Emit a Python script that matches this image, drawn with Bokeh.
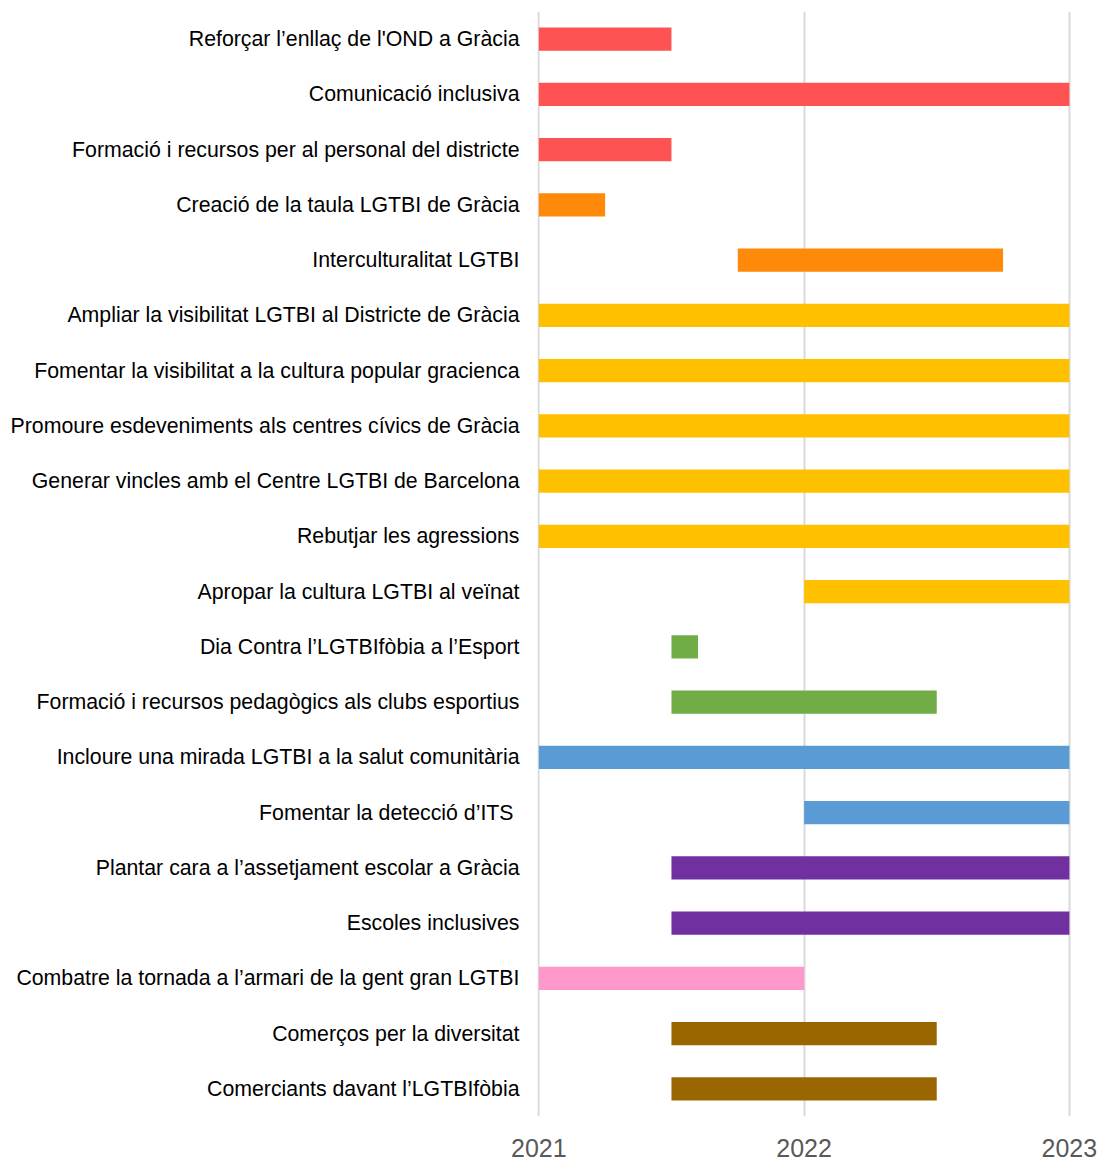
from bokeh.plotting import figure
from bokeh.models import ColumnDataSource, FactorRange, Range1d, FixedTicker
from bokeh.embed import file_html
from bokeh.resources import INLINE

actions = [
    "Reforçar l’enllaç de l'OND a Gràcia",
    "Comunicació inclusiva",
    "Formació i recursos per al personal del districte",
    "Creació de la taula LGTBI de Gràcia",
    "Interculturalitat LGTBI",
    "Ampliar la visibilitat LGTBI al Districte de Gràcia",
    "Fomentar la visibilitat a la cultura popular gracienca",
    "Promoure esdeveniments als centres cívics de Gràcia",
    "Generar vincles amb el Centre LGTBI de Barcelona",
    "Rebutjar les agressions",
    "Apropar la cultura LGTBI al veïnat",
    "Dia Contra l’LGTBIfòbia a l’Esport",
    "Formació i recursos pedagògics als clubs esportius",
    "Incloure una mirada LGTBI a la salut comunitària",
    "Fomentar la detecció d’ITS ",
    "Plantar cara a l’assetjament escolar a Gràcia",
    "Escoles inclusives",
    "Combatre la tornada a l’armari de la gent gran LGTBI",
    "Comerços per la diversitat",
    "Comerciants davant l’LGTBIfòbia",
]
start = [2021.0, 2021.0, 2021.0, 2021.0, 2021.75, 2021.0, 2021.0, 2021.0, 2021.0, 2021.0,
         2022.0, 2021.5, 2021.5, 2021.0, 2022.0, 2021.5, 2021.5, 2021.0, 2021.5, 2021.5]
end = [2021.5, 2023.0, 2021.5, 2021.25, 2022.75, 2023.0, 2023.0, 2023.0, 2023.0, 2023.0,
       2023.0, 2021.6, 2022.5, 2023.0, 2023.0, 2023.0, 2023.0, 2022.0, 2022.5, 2022.5]
colors = ["#FF5353", "#FF5353", "#FF5353", "#FF8A0A", "#FF8A0A",
          "#FFC000", "#FFC000", "#FFC000", "#FFC000", "#FFC000", "#FFC000",
          "#70AD47", "#70AD47", "#5B9BD5", "#5B9BD5", "#7030A0", "#7030A0",
          "#FF99CC", "#996600", "#996600"]
years = [2021, 2022, 2023]

src = ColumnDataSource(dict(action=actions, start=start, end=end, color=colors))

p = figure(
    width=1100, height=1162,
    y_range=FactorRange(factors=list(reversed(actions)), range_padding=0),
    x_range=Range1d(2020.995, 2023.008),
    output_backend="svg", toolbar_location=None,
    min_border_left=537, min_border_right=29, min_border_top=11, min_border_bottom=46,
)
p.hbar(y="action", left="start", right="end", height=0.42, color="color",
       line_color=None, source=src)

p.outline_line_color = None
p.ygrid.grid_line_color = None
p.xgrid.grid_line_color = "#D9D9D9"
p.xgrid.grid_line_width = 2
p.xaxis.ticker = FixedTicker(ticks=years)
p.xaxis.axis_line_color = None
p.xaxis.major_tick_line_color = None
p.xaxis.minor_tick_line_color = None
p.xaxis.major_label_text_font = "Liberation Sans"
p.xaxis.major_label_text_font_size = "25px"
p.xaxis.major_label_text_color = "#595959"
p.xaxis.major_label_standoff = 16

p.yaxis.axis_line_color = None
p.yaxis.major_tick_line_color = None
p.yaxis.minor_tick_line_color = None
p.yaxis.major_label_text_font = "Liberation Sans"
p.yaxis.major_label_text_font_size = "21.3px"
p.yaxis.major_label_text_color = "#000000"
p.yaxis.major_label_standoff = 12

open("out.html", "w").write(file_html(p, INLINE))
